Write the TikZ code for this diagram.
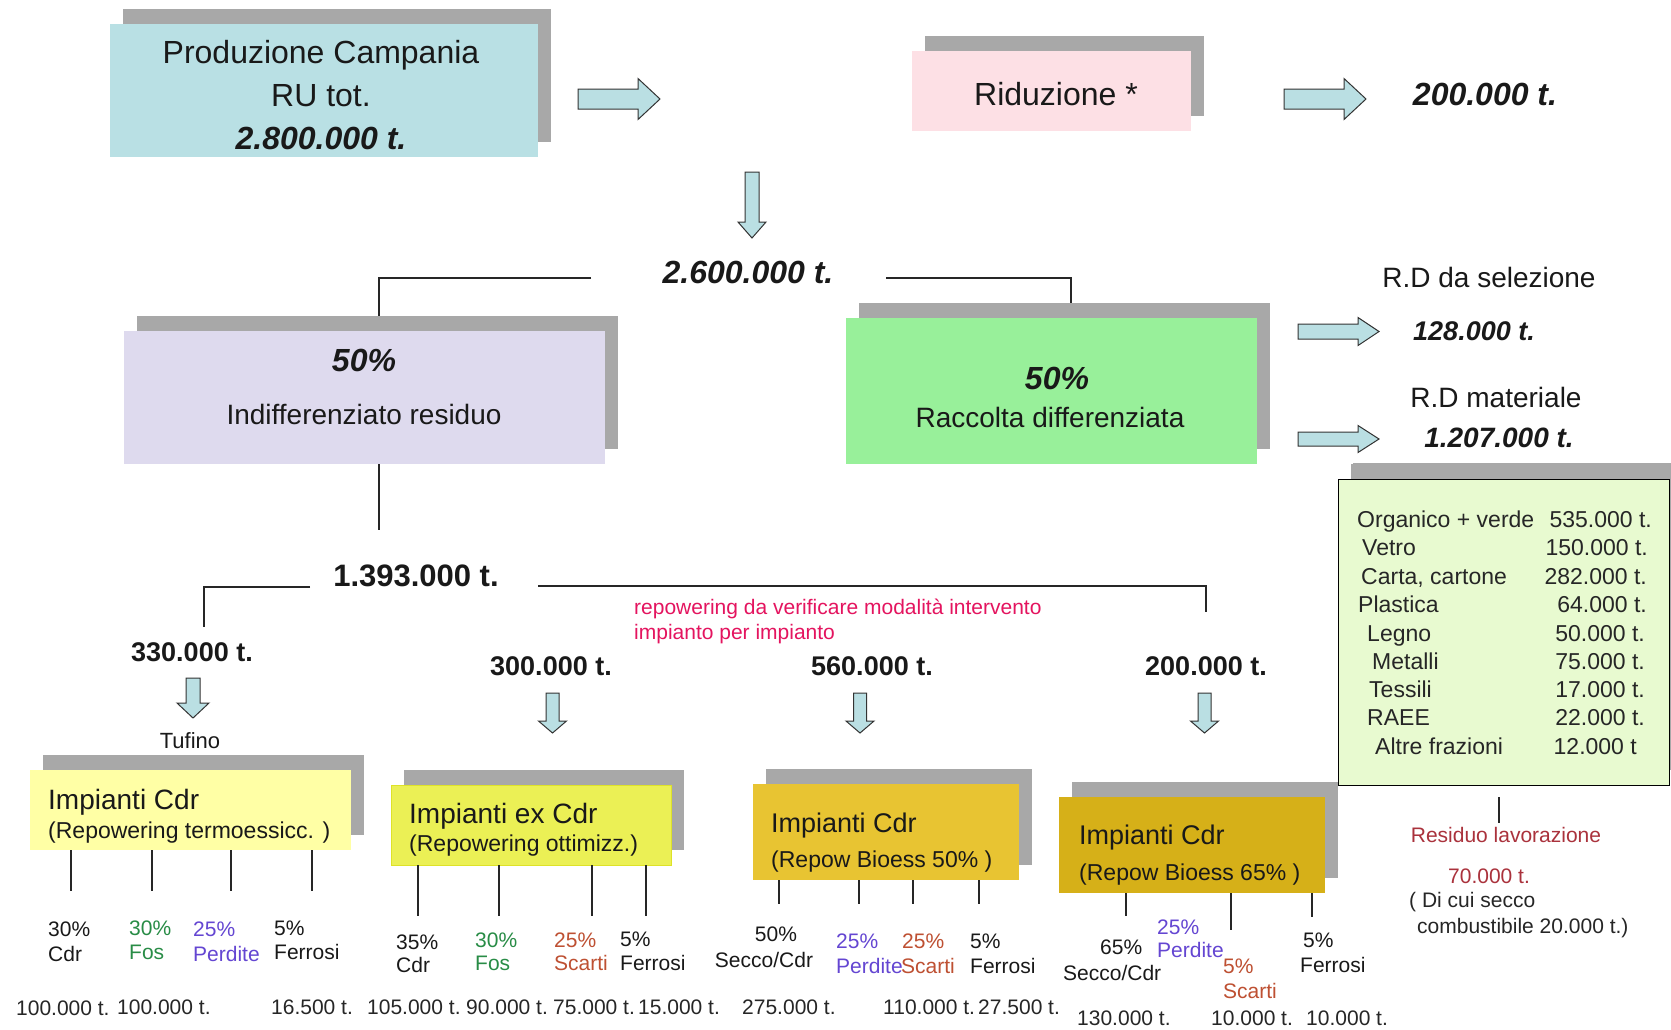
\documentclass[tikz,border=0pt]{standalone}
\usepackage{fontspec}
\setmainfont{Liberation Sans}
\usetikzlibrary{shadows}

\definecolor{shadowgray}{RGB}{168,168,168}
\definecolor{cyanbox}{RGB}{185,224,228}
\definecolor{arrowblue}{RGB}{186,223,227}
\definecolor{pinkbox}{RGB}{253,224,229}
\definecolor{lavbox}{RGB}{222,218,238}
\definecolor{greenbox}{RGB}{152,240,154}
\definecolor{rdbox}{RGB}{232,250,208}
\definecolor{yellowA}{RGB}{255,255,165}
\definecolor{yellowB}{RGB}{235,240,85}
\definecolor{yellowBline}{RGB}{222,226,40}
\definecolor{goldC}{RGB}{232,196,50}
\definecolor{goldD}{RGB}{214,176,24}
\definecolor{notered}{RGB}{228,20,95}
\definecolor{fosgreen}{RGB}{40,140,70}
\definecolor{perdpurple}{RGB}{100,70,210}
\definecolor{scartbrown}{RGB}{190,80,50}
\definecolor{residred}{RGB}{170,50,60}

\newcommand\fsz[1]{\fontsize{#1}{#1}\selectfont}
% right-pointing block arrow: tail x, centre y, length, shaft half-height, head half-height, head length
\newcommand\arrR[6]{\draw[fatarrow] (#1,#2) ++(0,{-#4}) -- ++({#3-#6},0) -- ++(0,{#4-#5}) -- ++(#6,#5) -- ++({-#6},#5) -- ++(0,{#4-#5}) -- ++({-(#3-#6)},0) -- cycle;}
% downward block arrow: centre x, top y, length, shaft half-width, head half-width, head length
\newcommand\arrD[6]{\draw[fatarrow] (#1,#2) ++({-#4},0) -- ++(0,{#3-#6}) -- ++({#4-#5},0) -- ++(#5,#6) -- ++(#5,{-#6}) -- ++({#4-#5},0) -- ++(0,{-(#3-#6)}) -- cycle;}

\begin{document}
\begin{tikzpicture}[x=1pt,y=-1pt,
  box/.style={rectangle, inner sep=0, draw=none,
    general shadow={fill=shadowgray, shadow xshift=13pt, shadow yshift=15pt}},
  % text is placed by the centre of its capitals: baseline sits 0.36em below the given point
  fs/.style={font=\fsz{#1}, yshift={-0.36*#1pt}},
  txt/.style={inner sep=0, anchor=base, text=black!90},
  txtw/.style={inner sep=0, anchor=base west, text=black!90},
  txte/.style={inner sep=0, anchor=base east, text=black!90},
  big/.style={txt, fs=32},
  bigbi/.style={txt, fs=32, font=\fsz{32}\bfseries\itshape},
  mid/.style={txt, fs=28},
  midbi/.style={txt, fs=28, font=\fsz{28}\bfseries\itshape},
  qty/.style={txt, fs=27, font=\fsz{27}\bfseries},
  ttl/.style={txtw, fs=#1},
  sub/.style={txtw, fs=23},
  lab/.style={txtw, fs=21},
  labc/.style={txt, fs=21},
  val/.style={txtw, fs=21, text=black!85},
  rdl/.style={txtw, fs=23, text=black!85},
  rdv/.style={txte, fs=23, text=black!85},
  conn/.style={draw=black!85, line width=1.3pt},
  fatarrow/.style={draw=black!80, fill=arrowblue, line width=1pt, line join=miter}]

\fill[white] (0,0) rectangle (1671,1029);
\useasboundingbox (0,0) rectangle (1671,1029);

% ---- top row ----
\node[box, fill=cyanbox, minimum width=428, minimum height=133] (prod) at (324,90.5) {};
\node[big] (prodA) at (321,52) {Produzione Campania};
\node[big] (prodB) at (321,95) {RU tot.};
\node[bigbi] (prodC) at (321,138) {2.800.000 t.};
\arrR{578}{99}{82}{10}{20.5}{22}

\node[box, fill=pinkbox, minimum width=279, minimum height=80] (rid) at (1051.5,91) {};
\node[big] (ridT) at (1056,94) {Riduzione *};
\arrR{1284}{99}{82}{10}{20.5}{22}
\node[bigbi] (rid200) at (1485,94) {200.000 t.};

\arrD{752}{172}{66}{7}{14}{16}
\node[bigbi] (t2600) at (748,272) {2.600.000 t.};

% ---- split into residual and separate collection ----
\coordinate (splitL) at (591,278);
\coordinate (splitR) at (886,278);
\node[box, fill=lavbox, minimum width=481, minimum height=133] (indiff) at (364.5,397.5) {};
\node[bigbi] (indiffP) at (364,360) {50\%};
\node[mid] (indiffT) at (364,414) {Indifferenziato residuo};
\coordinate (indiffTop) at (379,316);
\draw[conn] (splitL) -| (indiffTop);

\node[box, fill=greenbox, minimum width=411, minimum height=146] (racc) at (1051.5,391) {};
\node[bigbi] (raccP) at (1057,378) {50\%};
\node[mid] (raccT) at (1050,417) {Raccolta differenziata};
\coordinate (raccTop) at (1071,303);
\draw[conn] (splitR) -| (raccTop);

% ---- separate collection outputs ----
\arrR{1298}{331.5}{81}{7.5}{14}{21}
\arrR{1298}{439}{81}{7}{13.5}{21}
\node[mid] (rdsel) at (1489,277) {R.D da selezione};
\node[txt, fs=27, font=\fsz{27}\bfseries\itshape] (rdselV) at (1474,331) {128.000 t.};
\node[mid] (rdmat) at (1496,397) {R.D materiale};
\node[midbi] (rdmatV) at (1499,437) {1.207.000 t.};

\node[box, fill=rdbox, draw=black, line width=1pt, minimum width=331, minimum height=306,
  general shadow={fill=shadowgray, shadow xshift=15pt, shadow yshift=16pt}] (rd) at (1503.5,632) {};
\node[rdl] (r1) at (1357,519) {Organico + verde};
\node[rdv] (v1) at (1652,519) {535.000 t.};
\node[rdl] (r2) at (1362,547) {Vetro};
\node[rdv] (v2) at (1648,547) {150.000 t.};
\node[rdl] (r3) at (1361,576) {Carta, cartone};
\node[rdv] (v3) at (1647,576) {282.000 t.};
\node[rdl] (r4) at (1358,604) {Plastica};
\node[rdv] (v4) at (1647,604) {64.000 t.};
\node[rdl] (r5) at (1367,633) {Legno};
\node[rdv] (v5) at (1645,633) {50.000 t.};
\node[rdl] (r6) at (1372,661) {Metalli};
\node[rdv] (v6) at (1645,661) {75.000 t.};
\node[rdl] (r7) at (1369,689) {Tessili};
\node[rdv] (v7) at (1645,689) {17.000 t.};
\node[rdl] (r8) at (1367,717) {RAEE};
\node[rdv] (v8) at (1645,717) {22.000 t.};
\node[rdl] (r9) at (1375,746) {Altre frazioni};
\node[rdv] (v9) at (1637,746) {12.000 t};

\coordinate (rdLegTop) at (1499,797);
\coordinate (rdLegBot) at (1499,823);
\draw[conn] (rdLegTop) -- (rdLegBot);
\node[labc, text=residred] (resid) at (1506,835) {Residuo lavorazione};
\node[labc, text=residred] (residV) at (1489,876) {70.000 t.};
\node[lab, text=black!85] (residA) at (1409,900) {( Di cui secco};
\node[lab, text=black!85] (residB) at (1417,926) {combustibile 20.000 t.)};

% ---- residual flow ----
\coordinate (indiffBot) at (379,464);
\coordinate (indiffLeg) at (379,530);
\draw[conn] (indiffBot) -- (indiffLeg);
\node[txt, fs=31, font=\fsz{31}\bfseries] (t1393) at (416,575) {1.393.000 t.};
\coordinate (splitA) at (310,587);
\coordinate (dropA) at (204,627);
\draw[conn] (splitA) -| (dropA);
\coordinate (splitB) at (538,586);
\coordinate (dropB) at (1206,612);
\draw[conn] (splitB) -| (dropB);

\node[txtw, fs=21, text=notered] (noteA) at (634,607) {repowering da verificare modalità intervento};
\node[txtw, fs=21, text=notered] (noteB) at (634,632) {impianto per impianto};

\node[qty] (q330) at (192,652) {330.000 t.};
\node[qty] (q300) at (551,666) {300.000 t.};
\node[qty] (q560) at (872,666) {560.000 t.};
\node[qty] (q200) at (1206,666) {200.000 t.};

\arrD{193}{678}{40}{7}{16}{15}
\node[txt, fs=22] (tufino) at (190,741) {Tufino};
\arrD{552.5}{693}{40}{6.5}{14}{12}
\arrD{860}{693}{40}{6.5}{14}{12}
\arrD{1204.5}{693}{40}{6.5}{14}{12}

% ---- plants ----
\node[box, fill=yellowA, minimum width=321, minimum height=80] (b1) at (190.5,810) {};
\node[ttl=28] (b1t) at (48,799) {Impianti Cdr};
\node[sub] (b1s) at (48,830) {(Repowering termoessicc. )};

\node[box, fill=yellowB, draw=yellowBline, line width=0.8pt, minimum width=280, minimum height=80] (b2) at (531,825) {};
\node[ttl=28] (b2t) at (409,813) {Impianti ex Cdr};
\node[sub] (b2s) at (409,843) {(Repowering ottimizz.)};

\node[box, fill=goldC, minimum width=266, minimum height=96] (b3) at (886,832) {};
\node[ttl=27] (b3t) at (771,823) {Impianti Cdr};
\node[sub] (b3s) at (771,859) {(Repow Bioess 50\% )};

\node[box, fill=goldD, minimum width=266, minimum height=96] (b4) at (1192,845) {};
\node[ttl=27] (b4t) at (1079,835) {Impianti Cdr};
\node[sub] (b4s) at (1079,872) {(Repow Bioess 65\% )};

% plant output legs
\foreach \x in {71,152,231,312} \draw[conn] (\x,850) -- (\x,891);
\foreach \x in {418,499,592,646} \draw[conn] (\x,865) -- (\x,916);
\foreach \x in {779,859,913,979} \draw[conn] (\x,880) -- (\x,904);
\draw[conn] (1126,893) -- (1126,916);
\draw[conn] (1231,893) -- (1231,930);
\draw[conn] (1312,893) -- (1312,917);

% plant 1 outputs
\node[lab] (p1a) at (48,929) {30\%};
\node[lab] (p1b) at (48,954) {Cdr};
\node[lab, text=fosgreen] (p1c) at (129,928) {30\%};
\node[lab, text=fosgreen] (p1d) at (129,952) {Fos};
\node[lab, text=perdpurple] (p1e) at (193,929) {25\%};
\node[lab, text=perdpurple] (p1f) at (193,954) {Perdite};
\node[lab] (p1g) at (274,928) {5\%};
\node[lab] (p1h) at (274,952) {Ferrosi};

% plant 2 outputs
\node[lab] (p2a) at (396,942) {35\%};
\node[lab] (p2b) at (396,965) {Cdr};
\node[lab, text=fosgreen] (p2c) at (475,940) {30\%};
\node[lab, text=fosgreen] (p2d) at (475,963) {Fos};
\node[lab, text=scartbrown] (p2e) at (554,940) {25\%};
\node[lab, text=scartbrown] (p2f) at (554,963) {Scarti};
\node[lab] (p2g) at (620,939) {5\%};
\node[lab] (p2h) at (620,963) {Ferrosi};

% plant 3 outputs
\node[labc] (p3a) at (776,934) {50\%};
\node[labc] (p3b) at (764,960) {Secco/Cdr};
\node[lab, text=perdpurple] (p3c) at (836,941) {25\%};
\node[lab, text=perdpurple] (p3d) at (836,966) {Perdite};
\node[lab, text=scartbrown] (p3e) at (902,941) {25\%};
\node[lab, text=scartbrown] (p3f) at (901,966) {Scarti};
\node[lab] (p3g) at (970,941) {5\%};
\node[lab] (p3h) at (970,966) {Ferrosi};

% plant 4 outputs
\node[lab] (p4a) at (1100,947) {65\%};
\node[lab] (p4b) at (1063,973) {Secco/Cdr};
\node[lab, text=perdpurple] (p4c) at (1157,927) {25\%};
\node[lab, text=perdpurple] (p4d) at (1157,950) {Perdite};
\node[lab, text=scartbrown] (p4e) at (1223,966) {5\%};
\node[lab, text=scartbrown] (p4f) at (1223,991) {Scarti};
\node[lab] (p4g) at (1303,940) {5\%};
\node[lab] (p4h) at (1300,965) {Ferrosi};

% tonnages
\node[val] (w1) at (16,1008) {100.000 t.};
\node[val] (w2) at (117,1007) {100.000 t.};
\node[val] (w3) at (271,1007) {16.500 t.};
\node[val] (w4) at (367,1007) {105.000 t.};
\node[val] (w5) at (466,1007) {90.000 t.};
\node[val] (w6) at (553,1007) {75.000 t.};
\node[val] (w7) at (638,1007) {15.000 t.};
\node[val] (w8) at (742,1007) {275.000 t.};
\node[val] (w9) at (883,1007) {110.000 t.};
\node[val] (w10) at (978,1007) {27.500 t.};
\node[val] (w11) at (1077,1018) {130.000 t.};
\node[val] (w12) at (1211,1018) {10.000 t.};
\node[val] (w13) at (1306,1018) {10.000 t.};
\end{tikzpicture}
\end{document}
